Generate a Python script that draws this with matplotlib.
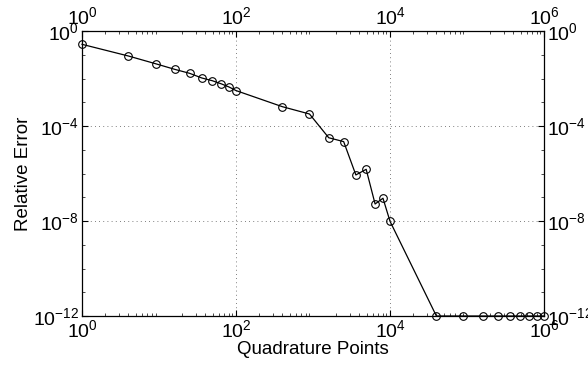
import matplotlib
matplotlib.use("Agg")
import matplotlib.pyplot as plt
from matplotlib.ticker import LogLocator, NullFormatter

plt.rcParams['font.family'] = ['Liberation Sans', 'DejaVu Sans']
plt.rcParams['mathtext.fontset'] = 'custom'
plt.rcParams['mathtext.rm'] = 'Liberation Sans'
plt.rcParams['mathtext.it'] = 'Liberation Sans'

quad_points = [1, 4, 9, 16, 25, 36, 49, 64, 81, 100,
               400, 900, 1600, 2500, 3600, 4900, 6400, 8100, 10000,
               40000, 90000, 160000, 250000, 360000, 490000, 640000, 810000, 1000000]
rel_error = [0.275, 0.0886, 0.042, 0.0243, 0.0165, 0.0105, 0.0081, 0.006, 0.0044, 0.0031,
             6.5e-4, 3.2e-4, 3.2e-5, 2.2e-5, 8.7e-7, 1.5e-6, 5.2e-8, 9.1e-8, 9.7e-9,
             1e-12, 1e-12, 1e-12, 1e-12, 1e-12, 1e-12, 1e-12, 1e-12, 1e-12]
x_ticks = [1e0, 1e2, 1e4, 1e6]
y_ticks = [1e-12, 1e-8, 1e-4, 1e0]

fig = plt.figure(figsize=(5.88, 3.66), dpi=100)
ax = fig.add_axes([0.1395, 0.1366, 0.7857, 0.7787])
ax.plot(quad_points, rel_error, color='black', linewidth=0.9,
        marker='o', markersize=5.5, markerfacecolor='none', markeredgewidth=0.8,
        clip_on=False)
ax.set_xscale('log')
ax.set_yscale('log')
ax.set_xlim(1, 1e6)
ax.set_ylim(1e-12, 1)
ax.set_xticks(x_ticks)
ax.set_yticks(y_ticks)
ax.xaxis.set_minor_locator(LogLocator(base=10, subs='auto', numticks=100))
ax.yaxis.set_minor_locator(LogLocator(base=10, subs=(1.0,), numticks=100))
ax.xaxis.set_minor_formatter(NullFormatter())
ax.yaxis.set_minor_formatter(NullFormatter())
ax.grid(True, which='major', linestyle=(0, (1, 4)), color='#555555', linewidth=0.6)
ax.tick_params(which='both', direction='in', top=True, right=True,
               labeltop=True, labelright=True, labelsize=14, colors='black')
ax.tick_params(which='major', length=4, width=0.8, pad=2)
ax.tick_params(which='minor', length=2, width=0.5)
for s in ax.spines.values():
    s.set_linewidth(0.9)
ax.set_xlabel('Quadrature Points', fontsize=13.5, labelpad=0)
ax.set_ylabel('Relative Error', fontsize=13.5, labelpad=1)
fig.savefig('out.png', dpi=100)
